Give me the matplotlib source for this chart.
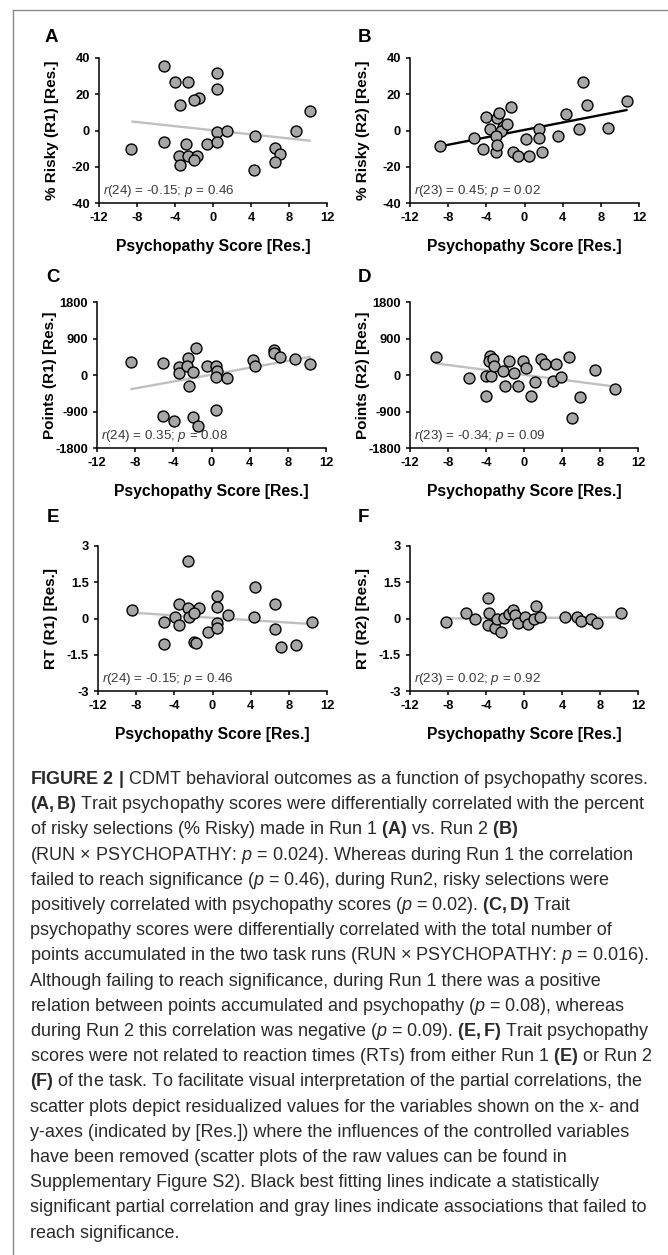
import matplotlib
matplotlib.use("Agg")
import matplotlib.pyplot as plt
from matplotlib import font_manager
from matplotlib.lines import Line2D

W, H = 668, 1255

# ---- data (residualized values) ----
a_x = [-5.2, -4.0, -2.6, 0.4, 0.4, -1.5, -2.0, -3.5, 10.2, -8.6, -5.2, -2.8, -0.6, 0.4,
       0.4, 1.5, 4.4, 8.7, -3.6, -2.6, -1.7, -2.0, -3.5, 4.3, 6.5, 7.1, 6.5]
a_y = [35.8, 27.0, 27.0, 32.0, 22.8, 18.2, 16.9, 13.8, 10.8, -10.1, -6.4, -7.5, -7.5, -1.1,
       -6.4, -0.2, -3.3, -0.2, -14.3, -13.8, -14.3, -16.5, -19.3, -21.7, -9.4, -13.1, -17.5]

b_x = [-8.9, -5.3, -4.0, -2.9, -2.7, -1.4, -3.6, -2.3, -2.5, -1.8, -3.0, -4.3, -3.0, -2.9,
       -1.2, -0.7, 0.5, 0.2, 1.5, 1.5, 1.8, 3.5, 4.4, 5.7, 6.1, 6.6, 8.7, 10.7]
b_y = [-8.5, -3.9, 7.4, 6.8, 9.6, 13.2, 0.9, 2.2, 0.0, 3.5, -2.9, -10.1, -11.6, -7.9,
       -11.6, -14.3, -13.8, -4.6, 0.7, -3.9, -12.1, -2.9, 9.2, 0.7, 26.7, 14.2, 1.3, 16.4]

c_x = [-8.4, -5.1, -3.4, -3.4, -2.5, -2.6, -1.6, -1.9, -2.4, -0.5, 0.5, 0.6, 0.5, 1.6,
       0.5, -5.1, -3.9, -1.9, -1.4, 4.4, 4.6, 6.5, 6.5, 7.2, 8.8, 10.3]
c_y = [311, 286, 204, 57, 425, 221, 671, 82, -262, 229, 229, 106, -57, -65,
       -875, -1023, -1145, -1047, -1268, 368, 229, 614, 532, 434, 393, 270]

d_x = [-9.3, -5.8, -4.0, -4.0, -3.5, -3.6, -3.7, -3.3, -3.2, -2.2, -1.6, -1.1, -2.0, -0.6,
       -0.1, 0.2, 0.7, 1.2, 1.8, 2.2, 3.4, 3.0, 3.9, 4.7, 5.0, 5.9, 7.5, 9.6]
d_y = [450, -65, -515, -25, -25, 474, 344, 393, 221, 106, 344, 57, -262, -262,
       352, 164, -507, -180, 393, 262, 262, -147, -41, 434, -1063, -548, 123, -344]

e_x = [-8.4, -5.1, -5.1, -3.9, -3.5, -3.5, -2.6, -2.6, -2.5, -1.4, -1.9, -1.9, -1.7, -0.5,
       0.5, 0.5, 0.5, 0.5, 1.6, 4.5, 4.4, 6.5, 6.5, 7.2, 8.7, 10.4]
e_y = [0.35, -0.16, -1.07, 0.08, 0.60, -0.27, 2.39, 0.42, 0.08, 0.42, 0.24, -0.99, -1.00, -0.54,
       0.93, 0.46, -0.20, -0.38, 0.14, 1.32, 0.08, 0.60, -0.45, -1.17, -1.10, -0.16]

f_x = [-8.2, -6.1, -5.2, -3.8, -3.7, -3.8, -3.1, -2.4, -2.8, -2.1, -1.6, -1.2, -0.9,
       -0.6, 0.1, 0.4, 1.0, 1.3, 1.7, 4.3, 5.6, 6.0, 7.0, 7.7, 10.2]
f_y = [-0.13, 0.21, -0.03, 0.86, 0.21, -0.27, -0.41, -0.54, -0.02, 0.01, 0.17, 0.35, 0.14,
       -0.20, 0.08, -0.24, -0.02, 0.52, 0.08, 0.08, 0.08, -0.09, -0.02, -0.20, 0.24]

# best fitting lines (end points)
a_fit_x, a_fit_y = [-8.6, 10.3], [5.0, -5.7]
b_fit_x, b_fit_y = [-8.9, 10.8], [-8.8, 11.4]
c_fit_x, c_fit_y = [-8.5, 10.4], [-352, 450]
d_fit_x, d_fit_y = [-9.3, 9.6], [286, -286]
e_fit_x, e_fit_y = [-8.4, 10.4], [0.24, -0.23]
f_fit_x, f_fit_y = [-8.2, 10.2], [0.0, 0.05]

x_ticks = [-12, -8, -4, 0, 4, 8, 12]
risky_ticks = [-40, -20, 0, 20, 40]
points_ticks = [-1800, -900, 0, 900, 1800]
rt_ticks = [-3, -1.5, 0, 1.5, 3]
rt_labels = ["-3", "-1.5", "0", "1.5", "3"]

stats = {
    "A": r"$\mathit{r}$(24) = -0.15; $\mathit{p}$ = 0.46",
    "B": r"$\mathit{r}$(23) = 0.45; $\mathit{p}$ = 0.02",
    "C": r"$\mathit{r}$(24) = 0.35; $\mathit{p}$ = 0.08",
    "D": r"$\mathit{r}$(23) = -0.34; $\mathit{p}$ = 0.09",
    "E": r"$\mathit{r}$(24) = -0.15; $\mathit{p}$ = 0.46",
    "F": r"$\mathit{r}$(23) = 0.02; $\mathit{p}$ = 0.92",
}

CAPTION = [
    r"$\mathbf{FIGURE\ 2\ |}$ CDMT behavioral outcomes as a function of psychopathy scores.",
    r"$\mathbf{(A,B)}$ Trait psychopathy scores were differentially correlated with the percent",
    r"of risky selections (% Risky) made in Run 1 $\mathbf{(A)}$ vs. Run 2 $\mathbf{(B)}$",
    r"(RUN × PSYCHOPATHY: $\mathit{p}$ = 0.024). Whereas during Run 1 the correlation",
    r"failed to reach significance ($\mathit{p}$ = 0.46), during Run2, risky selections were",
    r"positively correlated with psychopathy scores ($\mathit{p}$ = 0.02). $\mathbf{(C,D)}$ Trait",
    r"psychopathy scores were differentially correlated with the total number of",
    r"points accumulated in the two task runs (RUN × PSYCHOPATHY: $\mathit{p}$ = 0.016).",
    r"Although failing to reach significance, during Run 1 there was a positive",
    r"relation between points accumulated and psychopathy ($\mathit{p}$ = 0.08), whereas",
    r"during Run 2 this correlation was negative ($\mathit{p}$ = 0.09). $\mathbf{(E,F)}$ Trait psychopathy",
    r"scores were not related to reaction times (RTs) from either Run 1 $\mathbf{(E)}$ or Run 2",
    r"$\mathbf{(F)}$ of the task. To facilitate visual interpretation of the partial correlations, the",
    r"scatter plots depict residualized values for the variables shown on the x- and",
    r"y-axes (indicated by [Res.]) where the influences of the controlled variables",
    r"have been removed (scatter plots of the raw values can be found in",
    r"Supplementary Figure S2). Black best fitting lines indicate a statistically",
    r"significant partial correlation and gray lines indicate associations that failed to",
    r"reach significance.",
]

installed = {f.name for f in font_manager.fontManager.ttflist}
if "Liberation Sans Narrow" in installed:
    CAP_FONT, CAP_SIZE = "Liberation Sans Narrow", 15.8
else:
    CAP_FONT, CAP_SIZE = "Liberation Sans", 13.0

plt.rcParams["font.family"] = ["Liberation Sans", "DejaVu Sans"]
plt.rcParams["axes.unicode_minus"] = False
plt.rcParams["mathtext.fontset"] = "custom"
plt.rcParams["mathtext.rm"] = CAP_FONT
plt.rcParams["mathtext.it"] = CAP_FONT + ":italic"
plt.rcParams["mathtext.bf"] = CAP_FONT + ":bold"

GRAY_LINE = "#c0c0c0"
MARKER_FACE = "#a6a6a6"


def px_rect(left, top, right, bottom):
    return [left / W, 1 - bottom / H, (right - left) / W, (bottom - top) / H]


def panel(fig, rect, x, y, fx, fy, fit_color, yticks, ylabels, ylabel, letter):
    ax = fig.add_axes(px_rect(*rect))
    ax.plot(fx, fy, color=fit_color, linewidth=1.7, zorder=2, solid_capstyle="butt")
    ax.scatter(x, y, s=62, facecolor=MARKER_FACE, edgecolor="black",
               linewidth=1.0, zorder=3, clip_on=False)
    ax.set_xlim(-12, 12)
    ax.set_ylim(yticks[0], yticks[-1])
    ax.set_xticks(x_ticks, labels=[str(t) for t in x_ticks])
    ax.set_yticks(yticks, labels=ylabels)
    for side in ("top", "right"):
        ax.spines[side].set_visible(False)
    for side in ("left", "bottom"):
        ax.spines[side].set_linewidth(1.1)
    ax.tick_params(direction="out", length=3, width=1.1, pad=3.5, labelsize=9.3)
    for lab in ax.get_xticklabels() + ax.get_yticklabels():
        lab.set_fontweight("bold")
    ax.set_xlabel("Psychopathy Score [Res.]", fontsize=11.3, fontweight="bold")
    ax.xaxis.set_label_coords(0.5, -0.30)
    ax.xaxis.label.set_va("center")
    ax.set_ylabel(ylabel, fontsize=11, fontweight="bold")
    ax.yaxis.set_label_coords(-47 / (rect[2] - rect[0]), 0.5)
    ax.yaxis.label.set_va("center")
    ax.text(0.016, 0.03, stats[letter], transform=ax.transAxes, fontsize=9.6,
            color="#3a3a3a", va="bottom", ha="left")
    ax.patch.set_alpha(0)
    return ax


fig = plt.figure(figsize=(W / 100, H / 100), dpi=100)

risky_labels = [str(t) for t in risky_ticks]
points_labels = [str(t) for t in points_ticks]

panel(fig, (99, 58, 327, 203), a_x, a_y, a_fit_x, a_fit_y, GRAY_LINE,
      risky_ticks, risky_labels, "% Risky (R1) [Res.]", "A")
panel(fig, (410, 58, 639, 203), b_x, b_y, b_fit_x, b_fit_y, "black",
      risky_ticks, risky_labels, "% Risky (R2) [Res.]", "B")
panel(fig, (97, 302, 326, 448), c_x, c_y, c_fit_x, c_fit_y, GRAY_LINE,
      points_ticks, points_labels, "Points (R1) [Res.]", "C")
panel(fig, (410, 302, 638, 448), d_x, d_y, d_fit_x, d_fit_y, GRAY_LINE,
      points_ticks, points_labels, "Points (R2) [Res.]", "D")
panel(fig, (98, 546, 327, 691), e_x, e_y, e_fit_x, e_fit_y, GRAY_LINE,
      rt_ticks, rt_labels, "RT (R1) [Res.]", "E")
panel(fig, (410, 546, 638, 691), f_x, f_y, f_fit_x, f_fit_y, GRAY_LINE,
      rt_ticks, rt_labels, "RT (R2) [Res.]", "F")

# panel letters
for letter, (lx, ly) in {"A": (45, 38), "B": (358, 38), "C": (46, 278),
                         "D": (358, 278), "E": (47, 517), "F": (358, 517)}.items():
    fig.text(lx / W, 1 - ly / H, letter, fontsize=13.5, fontweight="bold",
             ha="left", va="center")

# frame around the figure
fig.add_artist(Line2D([13 / W, 1], [1 - 10 / H, 1 - 10 / H], transform=fig.transFigure,
                      color="#8a8a8a", linewidth=1.0))
fig.add_artist(Line2D([13 / W, 13 / W], [1 - 10 / H, 0], transform=fig.transFigure,
                      color="#8a8a8a", linewidth=1.0))

# caption
for i, line in enumerate(CAPTION):
    fig.text(30 / W, 1 - (784 + 25.2 * i) / H, line, fontsize=CAP_SIZE,
             fontfamily=CAP_FONT, color="#2a2a2a", ha="left", va="baseline")

fig.savefig("out.png", dpi=100)
